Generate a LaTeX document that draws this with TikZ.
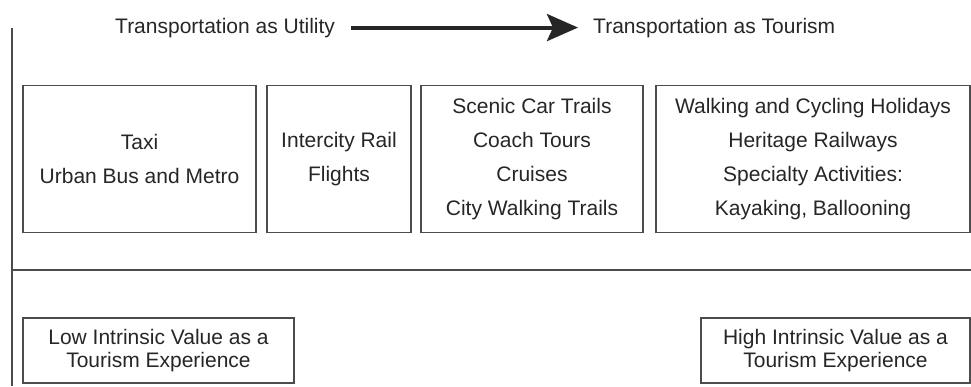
\documentclass[tikz,border=0pt]{standalone}
\usepackage{fontspec}
\setmainfont{Liberation Sans}
\usetikzlibrary{arrows.meta}

\begin{document}
\begin{tikzpicture}[
        x=1pt, y=-1pt,
        box/.style={draw=black!70, line width=1.5pt, align=center, text=black!85,
                    inner sep=0pt, minimum height=147pt,
                    font=\fontsize{21}{34}\selectfont},
        valuebox/.style={box, minimum height=65pt,
                    font=\fontsize{21}{23}\selectfont},
        heading/.style={inner sep=0pt, text=black!85,
                    font=\fontsize{21}{25}\selectfont},
        rule/.style={draw=black!70, line width=1.5pt},
        trend/.style={line width=4pt, draw=black!85,
                    -{Stealth[length=31pt, width=27pt, inset=6pt]}},
    ]
        \useasboundingbox (0,0) rectangle (971,386);

        \node[heading, anchor=base west] (utility) at (115,33) {Transportation as Utility};
        \node[heading, anchor=base west] (tourism) at (593,33) {Transportation as Tourism};
        \draw[trend, shorten <=16pt, shorten >=15pt] (utility.east) -- (tourism.west);

        \coordinate (axistop) at (12,28);
        \coordinate (axisbot) at (12,386);
        \coordinate (splitl)  at (12,270);
        \coordinate (splitr)  at (971,270);
        \draw[rule] (axistop) -- (axisbot);
        \draw[rule] (splitl) -- (splitr);

        \node[box, minimum width=233pt] (taxi)    at (139.5,159) {Taxi\\Urban Bus and Metro};
        \node[box, minimum width=144pt] (rail)    at (339,159)   {Intercity Rail\\Flights};
        \node[box, minimum width=222pt] (scenic)  at (532,159)   {Scenic Car Trails\\Coach Tours\\Cruises\\City Walking Trails};
        \node[box, minimum width=314pt] (walking) at (813,159)   {Walking and Cycling Holidays\\Heritage Railways\\Specialty Activities:\\Kayaking, Ballooning};

        \node[valuebox, minimum width=271pt] (low)  at (158.5,350.5) {Low Intrinsic Value as a\\Tourism Experience};
        \node[valuebox, minimum width=269pt] (high) at (835.5,350.5) {High Intrinsic Value as a\\Tourism Experience};
    \end{tikzpicture}
\end{document}
